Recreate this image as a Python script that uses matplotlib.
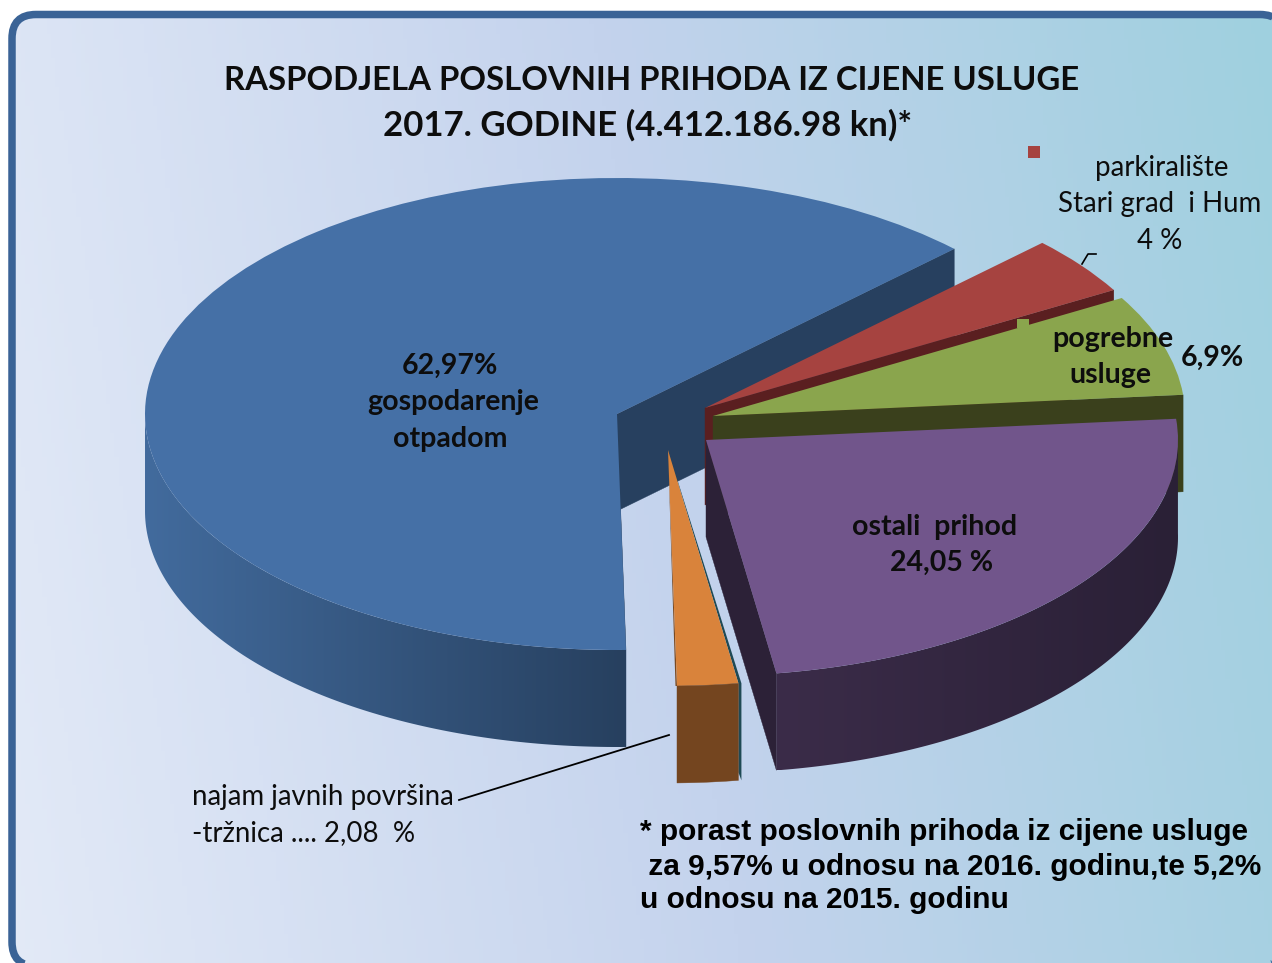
import numpy as np
import matplotlib.pyplot as plt
from matplotlib.colors import LinearSegmentedColormap
from matplotlib.patches import FancyBboxPatch, Polygon, Rectangle
from matplotlib.transforms import Affine2D

W, H = 1272, 963

# Chart data
categories = ["gospodarenje otpadom", "najam javnih površina - tržnica", "ostali prihod",
              "pogrebne usluge", "parkiralište Stari grad i Hum"]
shares = [62.97, 2.08, 24.05, 6.9, 4.0]
top_colors = ["#4570a6", "#d9833b", "#71558b", "#8aa54d", "#a64340"]
wall_colors = ["#27405f", "#74451f", "#2c2137", "#3a401c", "#5a1f20"]
# slice apex positions in pixels (exploded pie)
centers = [(617, 414), (668, 450), (706, 440), (713, 416), (705, 408)]

RADIUS = 472
SQUASH = 0.5
DEPTH = 97


def py(y):
    return H - y


def arc_points(i, t1, t2, n=60):
    a = np.radians(np.linspace(t1, t2, n))
    cx, cy = centers[i]
    return np.c_[cx + RADIUS * np.cos(a), py(cy) + RADIUS * SQUASH * np.sin(a)]


def cut_face(i, angle, color, z, dx=0):
    cx, cy = centers[i]
    e = arc_points(i, angle, angle, 1)[0]
    pts = [(cx, py(cy)), (e[0], e[1]), (e[0] + dx, e[1] - DEPTH), (cx + dx, py(cy) - DEPTH)]
    ax.add_patch(Polygon(pts, closed=True, fc=color, ec=color, lw=0.3, zorder=z))


def outer_wall(i, t1, t2, c1, c2, z):
    # shaded side of a slice, gradient runs left to right
    pts = arc_points(i, t1, t2, 120)
    poly = Polygon(np.r_[pts, (pts - [0, DEPTH])[::-1]], closed=True, fc="none", ec="none", zorder=z)
    ax.add_patch(poly)
    cm = LinearSegmentedColormap.from_list("wall", [c1, c2])
    x0, x1 = pts[:, 0].min(), pts[:, 0].max()
    y0, y1 = pts[:, 1].min() - DEPTH, pts[:, 1].max()
    im = ax.imshow(np.linspace(0, 1, 256).reshape(1, -1), extent=(x0, x1, y0, y1), cmap=cm,
                   aspect="auto", zorder=z)
    im.set_clip_path(poly)


fig = plt.figure(figsize=(W / 100, H / 100), dpi=100, facecolor="white")
ax = fig.add_axes([0, 0, 1, 1])

# Background panel with diagonal gradient
# the outline runs off the canvas, so flatten the curves or the corners get bent when clipped
xx, yy = np.meshgrid(np.linspace(0, 1, 300), np.linspace(1, 0, 200))
grad = xx + 0.12 * yy
cmap = LinearSegmentedColormap.from_list(
    "panel", [(0, "#e3eaf7"), (0.52, "#c4d3ed"), (1, "#9fd0df")])
box = FancyBboxPatch((12, py(966)), 1272, 951.5, boxstyle="round,pad=0,rounding_size=24")
panel = Polygon(box.get_path().to_polygons()[0], closed=True, fc="none", ec="#3a6396",
                lw=5.4, zorder=2)
ax.add_patch(panel)
img = ax.imshow(grad, extent=(0, W, 0, H), cmap=cmap, aspect="auto", zorder=1)
img.set_clip_path(panel)

# Pie tops from the share values
wedges, _ = ax.pie(shares, startangle=44.4, radius=RADIUS, center=(0, 0),
                   colors=top_colors, wedgeprops={"linewidth": 0}, frame=False)
thetas = [(w.theta1, w.theta2) for w in wedges]
top_z = [7, 14, 12, 10, 8]
for i, w in enumerate(wedges):
    cx, cy = centers[i]
    w.set_transform(Affine2D().scale(1, SQUASH).translate(cx, py(cy)) + ax.transData)
    w.set_zorder(top_z[i])
    w.set_clip_on(False)

# Blue slice: dark cut face and shaded outer wall
cut_face(0, thetas[0][0], wall_colors[0], 4)
cut_face(0, thetas[0][1], wall_colors[0], 4)
outer_wall(0, 180, thetas[0][1], "#426b9d", wall_colors[0], 5)

# Red and green slices only show their front cut faces
cut_face(4, thetas[4][0], wall_colors[4], 6)
cut_face(3, thetas[3][0], wall_colors[3], 9)

# Purple slice
cut_face(2, thetas[2][0], wall_colors[2], 11)
outer_wall(2, thetas[2][0], 361, "#3b2c49", "#2a2036", 11)

# Orange slice: brown front, teal sliver on the right
pts = arc_points(1, thetas[1][0], thetas[1][1], 8)
ax.add_patch(Polygon(np.r_[pts, (pts - [0, DEPTH])[::-1]], closed=True,
                     fc=wall_colors[1], ec=wall_colors[1], lw=0.3, zorder=14))
e = arc_points(1, thetas[1][1], thetas[1][1], 1)[0]
ox, oy = centers[1]
ax.add_patch(Polygon([(ox, py(oy)), (e[0] + 3, e[1]), (e[0] + 3, e[1] - DEPTH),
                      (e[0], e[1] - DEPTH + 8), (e[0], e[1])],
                     closed=True, fc="#1f4a55", ec="none", zorder=13))
s = arc_points(1, thetas[1][0], thetas[1][0], 1)[0]
ax.add_patch(Polygon([(ox, py(oy)), (s[0], s[1]), (s[0] - 1.5, s[1])],
                     closed=True, fc="#7a4a22", ec="none", zorder=13))

# Legend keys left by the data labels
ax.add_patch(Rectangle((1028, py(158)), 12, 12, fc=top_colors[4], ec="none", zorder=20))
ax.add_patch(Rectangle((1017, py(328)), 12, 9, fc=top_colors[3], ec="none", zorder=9))

# Leader lines
ax.plot([1082, 1088, 1096], [py(264), py(254), py(254)], color="black", lw=1.2, zorder=20)
ax.plot([459, 669], [py(800), py(735)], color="black", lw=1.3, zorder=20)

ax.set_xlim(0, W)
ax.set_ylim(0, H)
ax.set_aspect("auto")
ax.axis("off")

# Texts
TITLE = "Lato"
ax.text(652, py(80), "RASPODJELA POSLOVNIH PRIHODA IZ CIJENE USLUGE", ha="center", va="center",
        fontsize=23.7, fontweight="bold", family=TITLE, color="#0d0d0d", zorder=30)
ax.text(648, py(125), "2017. GODINE (4.412.186.98 kn)*", ha="center", va="center",
        fontsize=25, fontweight="bold", family=TITLE, color="#0d0d0d", zorder=30)


def label(x, y, s, bold=False):
    ax.text(x, py(y + 1), s, ha="center", va="center", family=TITLE,
            fontsize=20.5 if bold else 19.9,
            fontweight="bold" if bold else "normal", color="#0d0d0d", zorder=30)


label(450, 365, "62,97%", True)
label(453, 401, "gospodarenje", True)
label(450, 438, "otpadom", True)
label(935, 526, "ostali  prihod", True)
label(942, 562, "24,05 %", True)
label(1113, 338, "pogrebne", True)
label(1110, 374, "usluge", True)
label(1212, 357, "6,9%", True)
label(1162, 167, "parkiralište")
label(1160, 203, "Stari grad  i Hum")
label(1160, 240, "4 %")
ax.text(192, py(797), "najam javnih površina", ha="left", va="center", fontsize=19.9,
        family=TITLE, color="#0d0d0d", zorder=30)
ax.text(192, py(833), "-tržnica .... 2,08  %", ha="left", va="center", fontsize=19.9,
        family=TITLE, color="#0d0d0d", zorder=30)

note = ["* porast poslovnih prihoda iz cijene usluge",
        " za 9,57% u odnosu na 2016. godinu,te 5,2%",
        "u odnosu na 2015. godinu"]
for y, line in zip([832, 867, 900], note):
    ax.text(640, py(y), line, ha="left", va="center", fontsize=21.5, fontweight="bold",
            family="Liberation Sans", color="black", zorder=30)

fig.savefig("out.png", dpi=100)
plt.close(fig)
